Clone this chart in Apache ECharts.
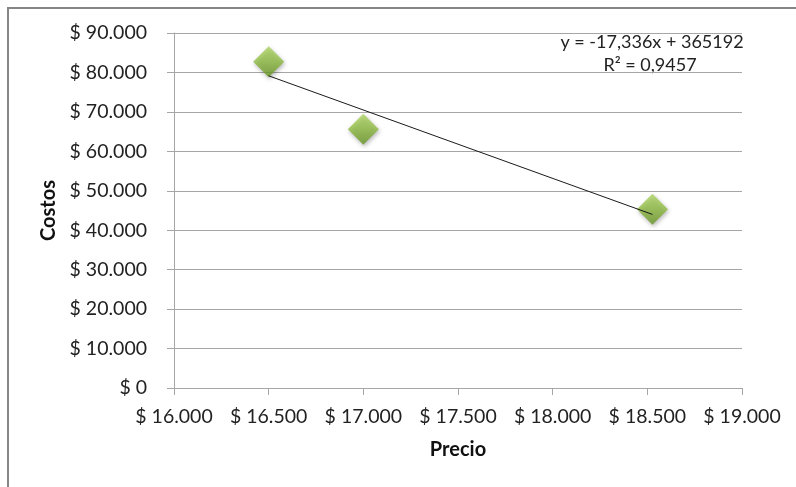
<!DOCTYPE html>
<html>
<head>
<meta charset="utf-8">
<script src="https://cdn.jsdelivr.net/npm/echarts@6/dist/echarts.min.js"></script>
<style>
  html, body { margin: 0; padding: 0; background: #fff; }
  #chart { width: 796px; height: 487px; }
</style>
</head>
<body>
<div id="chart"></div>
<script>
// Price vs. cost observations
const precios = [16500, 17000, 18527];
const costos = [82700, 65600, 45300];

// Linear trendline fitted to the data: y = slope * x + intercept
const trendSlope = -17.336;
const trendIntercept = 365192;
const trendR2 = 0.9457;

// Axis tick ranges
const xTicks = [16000, 16500, 17000, 17500, 18000, 18500, 19000];
const yTicks = [0, 10000, 20000, 30000, 40000, 50000, 60000, 70000, 80000, 90000];

function money(v) {
  if (v === 0) return '$ 0';
  return '$ ' + String(Math.round(v)).replace(/\B(?=(\d{3})+(?!\d))/g, '.');
}
function comma(v, d) {
  return v.toFixed(d).replace('.', ',');
}

const points = precios.map((x, i) => [x, costos[i]]);
const xMin = Math.min(...precios), xMax = Math.max(...precios);
const trendLine = [
  [xMin, trendSlope * xMin + trendIntercept],
  [xMax, trendSlope * xMax + trendIntercept]
];

const font = 'Lato, "Open Sans", sans-serif';
const labelSize = 19.5;
const chart = echarts.init(document.getElementById('chart'));
chart.setOption({
  animation: false,
  backgroundColor: '#fff',
  grid: { left: 174, right: 54, top: 33, bottom: 99 },
  graphic: [{
    type: 'rect',
    shape: { x: 8, y: 8, width: 800, height: 500 },
    style: { fill: 'none', stroke: '#868686', lineWidth: 2 },
    silent: true
  }, {
    type: 'text',
    x: 652, y: 42,
    style: {
      text: 'y = ' + comma(trendSlope, 3) + 'x + ' + trendIntercept,
      align: 'center', verticalAlign: 'middle',
      font: '18px ' + font, fill: '#222'
    }
  }, {
    type: 'text',
    x: 650, y: 65,
    style: {
      text: 'R² = ' + comma(trendR2, 4),
      align: 'center', verticalAlign: 'middle',
      font: '18px ' + font, fill: '#222'
    }
  }],
  xAxis: {
    type: 'value',
    min: xTicks[0], max: xTicks[xTicks.length - 1], interval: 500,
    name: 'Precio', nameLocation: 'middle', nameGap: 52,
    nameTextStyle: { fontFamily: font, fontWeight: 'bold', fontSize: 20, color: '#111' },
    axisLine: { show: true, lineStyle: { color: '#a6a6a6', width: 1 } },
    axisTick: { show: true, inside: false, length: 7, lineStyle: { color: '#a6a6a6' } },
    axisLabel: { formatter: money, fontFamily: font, fontSize: labelSize, color: '#222', margin: 19 },
    splitLine: { show: false }
  },
  yAxis: {
    type: 'value',
    min: yTicks[0], max: yTicks[yTicks.length - 1], interval: 10000,
    name: 'Costos', nameLocation: 'middle', nameGap: 113, nameRotate: 90,
    nameTextStyle: { fontFamily: font, fontWeight: 'bold', fontSize: 20, color: '#111' },
    axisLine: { show: true, lineStyle: { color: '#a6a6a6', width: 1 } },
    axisTick: { show: true, inside: false, length: 7, lineStyle: { color: '#a6a6a6' } },
    axisLabel: { formatter: money, fontFamily: font, fontSize: labelSize, color: '#222', margin: 27 },
    splitLine: { show: true, lineStyle: { color: '#a6a6a6', width: 1 } }
  },
  series: [{
    type: 'line',
    data: trendLine,
    symbol: 'none',
    lineStyle: { color: '#1a1a1a', width: 1 },
    z: 3
  }, {
    type: 'scatter',
    data: points,
    symbol: 'diamond',
    symbolSize: [31, 31],
    itemStyle: {
      color: new echarts.graphic.LinearGradient(0, 0, 0, 1, [
        { offset: 0, color: '#aed564' },
        { offset: 0.5, color: '#8fbc42' },
        { offset: 1, color: '#679425' }
      ]),
      shadowColor: 'rgba(0,0,0,0.35)',
      shadowBlur: 4,
      shadowOffsetX: 1,
      shadowOffsetY: 2
    },
    z: 2
  }]
});
</script>
</body>
</html>
